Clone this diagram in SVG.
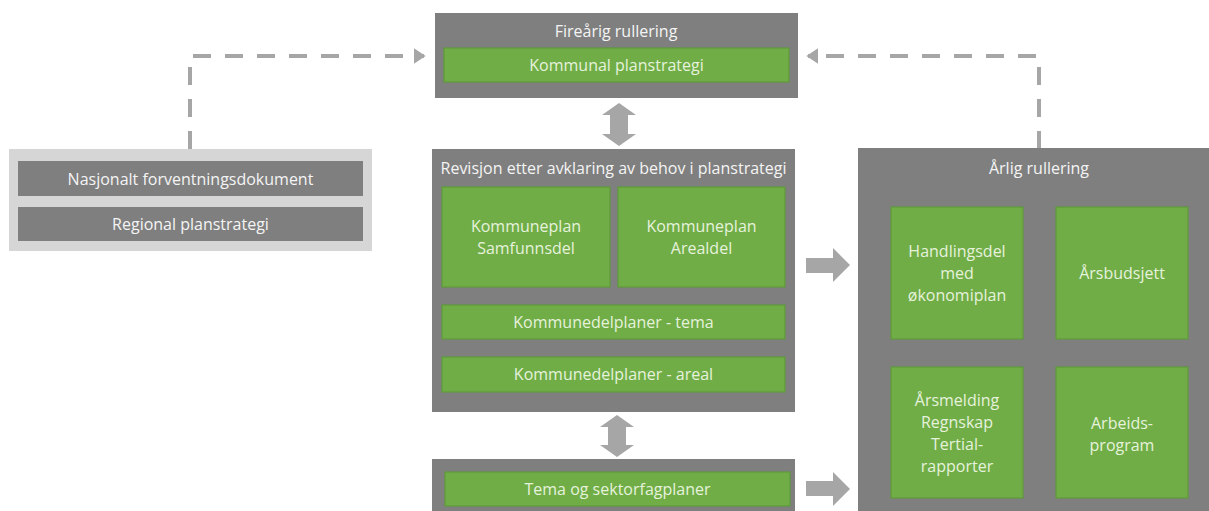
<svg xmlns="http://www.w3.org/2000/svg" width="1209" height="511" viewBox="0 0 1209 511">
<style>
.dark{fill:#7f7f7f}
.light{fill:#d6d6d6}
.green{fill:#70ad47;stroke:#5e9a3a;stroke-width:1.2}
.t{font-family:"Open Sans","Liberation Sans",sans-serif;font-size:16px;text-anchor:middle;dominant-baseline:central}
.tw{fill:#f4f4f4}
.tg{fill:#e6f2dc}
.dash{fill:none;stroke:#a6a6a6;stroke-width:4;stroke-dasharray:18 14}
.arr{fill:#a6a6a6}
</style>
<defs>
<marker id="ah" markerWidth="4" markerHeight="4" refX="2.6" refY="2" orient="auto" markerUnits="strokeWidth">
<path d="M0,0 L3,2 L0,4 z" fill="#a6a6a6"/>
</marker>
</defs>
<rect width="1209" height="511" fill="#ffffff"/>

<g id="connectors">
<path class="dash" d="M190,149 V56 H424" marker-end="url(#ah)"/>
<path class="dash" d="M1039,149 V56 H808" marker-end="url(#ah)"/>
<path class="arr" d="M619,103 L636,115 L628,115 L628,134 L636,134 L619,146 L602,134 L610,134 L610,115 L602,115 z"/>
<path class="arr" d="M617,415 L634,427 L626,427 L626,445 L634,445 L617,457 L600,445 L608,445 L608,427 L600,427 z"/>
<path class="arr" d="M806,258 L833,258 L833,248 L850,265 L833,282 L833,273 L806,273 z"/>
<path class="arr" d="M806,481 L833,481 L833,472 L850,489 L833,506 L833,496 L806,496 z"/>
</g>

<g id="external">
<rect class="light" x="9" y="149" width="363" height="102"/>
<g id="nasjonalt">
<rect class="dark" x="18" y="161" width="345" height="35"/>
<text class="t tw" x="190.5" y="178.5">Nasjonalt forventningsdokument</text>
</g>
<g id="regional">
<rect class="dark" x="18" y="207" width="345" height="34"/>
<text class="t tw" x="190.5" y="224">Regional planstrategi</text>
</g>
</g>

<g id="firearig">
<rect class="dark" x="435" y="13" width="363" height="85"/>
<text class="t tw" x="616" y="31">Fireårig rullering</text>
<g id="kommunal-planstrategi">
<rect class="green" x="444" y="48" width="345" height="34"/>
<text class="t tg" x="616.5" y="65">Kommunal planstrategi</text>
</g>
</g>

<g id="revisjon">
<rect class="dark" x="432" y="149" width="363" height="263"/>
<text class="t tw" x="613.5" y="168">Revisjon etter avklaring av behov i planstrategi</text>
<g id="samfunnsdel">
<rect class="green" x="442" y="187" width="168" height="100"/>
<text class="t tg" x="526" y="226">Kommuneplan</text>
<text class="t tg" x="526" y="248">Samfunnsdel</text>
</g>
<g id="arealdel">
<rect class="green" x="618" y="187" width="167" height="100"/>
<text class="t tg" x="701.5" y="226">Kommuneplan</text>
<text class="t tg" x="701.5" y="248">Arealdel</text>
</g>
<g id="kdp-tema">
<rect class="green" x="442" y="305" width="343" height="34"/>
<text class="t tg" x="613.5" y="322">Kommunedelplaner - tema</text>
</g>
<g id="kdp-areal">
<rect class="green" x="442" y="357" width="343" height="35"/>
<text class="t tg" x="613.5" y="374">Kommunedelplaner - areal</text>
</g>
</g>

<g id="tema-sektor">
<rect class="dark" x="432" y="459" width="363" height="60"/>
<g id="tema-og-sektorfagplaner">
<rect class="green" x="445" y="472" width="345" height="34"/>
<text class="t tg" x="617.5" y="489">Tema og sektorfagplaner</text>
</g>
</g>

<g id="arlig">
<rect class="dark" x="858" y="148" width="360" height="370"/>
<text class="t tw" x="1039" y="168">Årlig rullering</text>
<g id="handlingsdel">
<rect class="green" x="891" y="207" width="132" height="132"/>
<text class="t tg" x="957" y="251">Handlingsdel</text>
<text class="t tg" x="957" y="273">med</text>
<text class="t tg" x="957" y="295">økonomiplan</text>
</g>
<g id="arsbudsjett">
<rect class="green" x="1056" y="207" width="132" height="132"/>
<text class="t tg" x="1122" y="273">Årsbudsjett</text>
</g>
<g id="arsmelding">
<rect class="green" x="891" y="367" width="132" height="131"/>
<text class="t tg" x="957" y="400">Årsmelding</text>
<text class="t tg" x="957" y="422">Regnskap</text>
<text class="t tg" x="957" y="444">Tertial-</text>
<text class="t tg" x="957" y="466">rapporter</text>
</g>
<g id="arbeidsprogram">
<rect class="green" x="1056" y="367" width="132" height="131"/>
<text class="t tg" x="1122" y="423">Arbeids-</text>
<text class="t tg" x="1122" y="445">program</text>
</g>
</g>
</svg>
